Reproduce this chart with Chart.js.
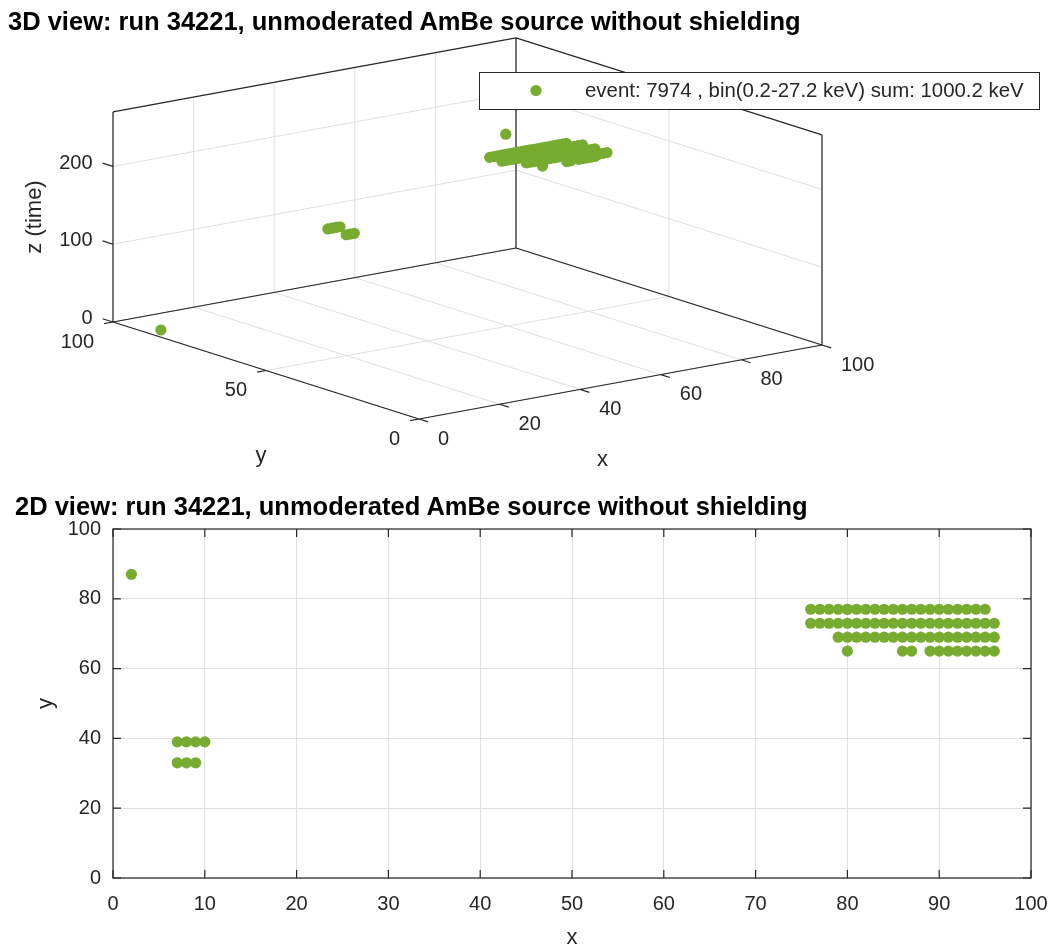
<!DOCTYPE html>
<html lang="en">
<head>
<meta charset="UTF-8">
<title>run 34221 - event 7974</title>
<script src="https://cdn.jsdelivr.net/npm/chart.js@4.4.0/dist/chart.umd.min.js"></script>
<style>
  body { margin: 0; background: #fff; }
  .panel { position: absolute; left: 0; width: 1053px; }
  .panel canvas { display: block; }
  .title {
    position: absolute;
    font-family: "Liberation Sans", Arial, Helvetica, sans-serif;
    font-weight: bold;
    font-size: 25.5px;
    line-height: 25px;
    color: #000;
    white-space: nowrap;
  }
</style>
</head>
<body>
<div class="panel" style="top:0;height:475px"><canvas id="view3d" width="1053" height="475"></canvas></div>
<div class="title" style="left:8px;top:9px">3D view: run 34221, unmoderated AmBe source without shielding</div>

<div class="panel" style="top:475px;height:474px"><canvas id="view2d" width="1053" height="474"></canvas></div>
<div class="title" style="left:15px;top:494px">2D view: run 34221, unmoderated AmBe source without shielding</div>

<script>
// hits of event 7974 (pixel x, pixel y, time z)
const hitX = [
  2,
  7, 8, 9, 10,
  7, 8, 9,
  76, 77, 78, 79, 80, 81, 82, 83, 84, 85, 86, 87, 88, 89, 90, 91, 92, 93, 94, 95,
  76, 77, 78, 79, 80, 81, 82, 83, 84, 85, 86, 87, 88, 89, 90, 91, 92, 93, 94, 95, 96,
  79, 80, 81, 82, 83, 84, 85, 86, 87, 88, 89, 90, 91, 92, 93, 94, 95, 96,
  80, 86, 87, 89, 90, 91, 92, 93, 94, 95, 96,
  80
];
const hitY = [
  87,
  39, 39, 39, 39,
  33, 33, 33,
  77, 77, 77, 77, 77, 77, 77, 77, 77, 77, 77, 77, 77, 77, 77, 77, 77, 77, 77, 77,
  73, 73, 73, 73, 73, 73, 73, 73, 73, 73, 73, 73, 73, 73, 73, 73, 73, 73, 73, 73, 73,
  69, 69, 69, 69, 69, 69, 69, 69, 69, 69, 69, 69, 69, 69, 69, 69, 69, 69,
  65, 65, 65, 65, 65, 65, 65, 65, 65, 65, 65,
  77
];
const hitZ = [
  4,
  189, 189, 189, 189,
  189, 189, 189,
  168, 168, 168, 168, 168, 168, 168, 168, 168, 168, 168, 168, 168, 168, 168, 168, 168, 168, 168, 168,
  168, 168, 168, 168, 168, 168, 168, 168, 168, 168, 168, 168, 168, 168, 168, 168, 168, 168, 170, 170, 170,
  168, 168, 168, 168, 168, 168, 168, 168, 168, 168, 168, 168, 168, 168, 168, 170, 170, 170,
  168, 168, 168, 168, 168, 168, 168, 168, 170, 170, 170,
  194
];
const legendLabel = 'event: 7974 , bin(0.2-27.2 keV) sum: 1000.2 keV';

// axis ticks
const xTicks3d = [0, 20, 40, 60, 80, 100];
const yTicks3d = [0, 50, 100];
const zTicks3d = [0, 100, 200];
const zMax = 270;
const xTicks2d = [0, 10, 20, 30, 40, 50, 60, 70, 80, 90, 100];
const yTicks2d = [0, 20, 40, 60, 80, 100];

const GREEN = '#77AC30';
const INK = '#262626';
const GRID = '#dfdfdf';
const FAMILY = '"Liberation Sans", Arial, Helvetica, sans-serif';

Chart.defaults.font.family = FAMILY;
Chart.defaults.color = INK;

// orthographic view, screen units are px measured from the (0,0,0) corner
const VIEW = { ox: 419, oy: 419, xu: 4.03, xv: 0.74, yu: -3.06, yv: 0.97, zv: 0.778 };
function proj(x, y, z) {
  return { x: x * VIEW.xu + y * VIEW.yu, y: x * VIEW.xv + y * VIEW.yv + z * VIEW.zv };
}

function segments(list) {
  const out = [];
  list.forEach(([a, b]) => {
    out.push(proj(a[0], a[1], a[2]), proj(b[0], b[1], b[2]), { x: null, y: null });
  });
  return out;
}

const xMax = xTicks3d[xTicks3d.length - 1];
const yMax = yTicks3d[yTicks3d.length - 1];

const gridList = [];
xTicks3d.forEach(t => {
  gridList.push([[t, 0, 0], [t, yMax, 0]]);
  gridList.push([[t, yMax, 0], [t, yMax, zMax]]);
});
yTicks3d.forEach(t => {
  gridList.push([[0, t, 0], [xMax, t, 0]]);
  gridList.push([[xMax, t, 0], [xMax, t, zMax]]);
});
zTicks3d.forEach(t => {
  gridList.push([[0, yMax, t], [xMax, yMax, t]]);
  gridList.push([[xMax, 0, t], [xMax, yMax, t]]);
});

const boxList = [
  [[0, 0, 0], [xMax, 0, 0]],
  [[0, 0, 0], [0, yMax, 0]],
  [[0, yMax, 0], [xMax, yMax, 0]],
  [[xMax, 0, 0], [xMax, yMax, 0]],
  [[0, yMax, 0], [0, yMax, zMax]],
  [[xMax, yMax, 0], [xMax, yMax, zMax]],
  [[xMax, 0, 0], [xMax, 0, zMax]],
  [[0, yMax, zMax], [xMax, yMax, zMax]],
  [[xMax, yMax, zMax], [xMax, 0, zMax]]
];
// tick marks, length in data units
xTicks3d.forEach(t => boxList.push([[t, 0, 0], [t, -3, 0]]));
yTicks3d.forEach(t => boxList.push([[0, t, 0], [-2.2, t, 0]]));
zTicks3d.forEach(t => boxList.push([[0, yMax, t], [0, yMax + 3.4, t]]));

const labels3d = {
  id: 'labels3d',
  afterDatasetsDraw(chart) {
    const { ctx, scales: { x: sx, y: sy } } = chart;
    const px = (x, y, z) => {
      const p = proj(x, y, z);
      return [sx.getPixelForValue(p.x), sy.getPixelForValue(p.y)];
    };
    ctx.save();
    ctx.fillStyle = INK;
    ctx.font = '20px ' + FAMILY;
    ctx.textBaseline = 'middle';

    ctx.textAlign = 'right';
    zTicks3d.forEach(t => {
      const [u, v] = px(0, yMax + 3.4, t);
      ctx.fillText(String(t), u - 10, v);
    });
    yTicks3d.forEach(t => {
      const [u, v] = px(0, t, 0);
      ctx.fillText(String(t), u - 19, v + 20);
    });
    ctx.textAlign = 'left';
    xTicks3d.forEach(t => {
      const [u, v] = px(t, 0, 0);
      ctx.fillText(String(t), u + 19, v + 20);
    });

    // axis labels
    ctx.font = '22px ' + FAMILY;
    ctx.textAlign = 'center';
    let [u, v] = px(xMax / 2, 0, 0);
    ctx.fillText('x', u - 18, v + 78);
    [u, v] = px(0, yMax / 2, 0);
    ctx.fillText('y', u - 5, v + 85);
    [u, v] = px(0, yMax, zMax / 2);
    ctx.translate(u - 78, v);
    ctx.rotate(-Math.PI / 2);
    ctx.fillText('z (time)', 0, 0);
    ctx.restore();
  },
  afterDraw(chart) {
    const { ctx } = chart;
    const ds = chart.data.datasets[0];
    ctx.save();
    ctx.fillStyle = '#fff';
    ctx.strokeStyle = INK;
    ctx.lineWidth = 1;
    ctx.fillRect(479.5, 72.5, 560, 37);
    ctx.strokeRect(479.5, 72.5, 560, 37);
    ctx.fillStyle = ds.backgroundColor;
    ctx.beginPath();
    ctx.arc(536, 90.5, ds.pointRadius, 0, Math.PI * 2);
    ctx.fill();
    ctx.fillStyle = INK;
    ctx.font = '20.4px ' + FAMILY;
    ctx.textAlign = 'left';
    ctx.textBaseline = 'middle';
    ctx.fillText(ds.label, 585, 91);
    ctx.restore();
  }
};

const canvas3d = document.getElementById('view3d');
new Chart(canvas3d, {
  type: 'scatter',
  data: {
    datasets: [
      {
        label: legendLabel,
        data: hitX.map((x, i) => proj(x, hitY[i], hitZ[i])),
        backgroundColor: GREEN,
        borderWidth: 0,
        pointRadius: 5.6,
        pointHoverRadius: 5.6,
        order: 0
      },
      {
        label: 'box',
        data: segments(boxList),
        showLine: true,
        borderColor: INK,
        borderWidth: 1.2,
        pointRadius: 0,
        order: 1
      },
      {
        label: 'grid',
        data: segments(gridList),
        showLine: true,
        borderColor: GRID,
        borderWidth: 1,
        pointRadius: 0,
        order: 2
      }
    ]
  },
  options: {
    responsive: false,
    animation: false,
    events: [],
    layout: { padding: 0, autoPadding: false },
    plugins: { legend: { display: false }, tooltip: { enabled: false } },
    scales: {
      x: { type: 'linear', display: false, min: -VIEW.ox, max: canvas3d.width - VIEW.ox },
      y: { type: 'linear', display: false, min: VIEW.oy - canvas3d.height, max: VIEW.oy }
    }
  },
  plugins: [labels3d]
});

// 2D view: box with inward ticks on all four sides
const TICK = 8;
const boxTicks = {
  id: 'boxTicks',
  afterDatasetsDraw(chart) {
    const { ctx, chartArea: a, scales: { x, y } } = chart;
    ctx.save();
    ctx.strokeStyle = INK;
    ctx.lineWidth = 1.2;
    ctx.beginPath();
    xTicks2d.forEach(t => {
      const p = x.getPixelForValue(t);
      ctx.moveTo(p, a.bottom); ctx.lineTo(p, a.bottom - TICK);
      ctx.moveTo(p, a.top); ctx.lineTo(p, a.top + TICK);
    });
    yTicks2d.forEach(t => {
      const p = y.getPixelForValue(t);
      ctx.moveTo(a.left, p); ctx.lineTo(a.left + TICK, p);
      ctx.moveTo(a.right, p); ctx.lineTo(a.right - TICK, p);
    });
    ctx.stroke();
    ctx.strokeRect(a.left, a.top, a.right - a.left, a.bottom - a.top);
    ctx.restore();
  }
};

new Chart(document.getElementById('view2d'), {
  type: 'scatter',
  data: {
    datasets: [{
      label: legendLabel,
      data: hitX.map((x, i) => ({ x, y: hitY[i] })),
      backgroundColor: GREEN,
      borderWidth: 0,
      pointRadius: 5.6,
      pointHoverRadius: 5.6
    }]
  },
  options: {
    responsive: false,
    animation: false,
    events: [],
    layout: { padding: { top: 54, right: 22, left: 0, bottom: 0 }, autoPadding: false },
    plugins: { legend: { display: false }, tooltip: { enabled: false } },
    scales: {
      x: {
        type: 'linear', min: 0, max: 100,
        afterBuildTicks: s => { s.ticks = xTicks2d.map(v => ({ value: v })); },
        afterFit: s => { s.height = 71; },
        // invisible outer ticks keep the labels away from the axis
        grid: { color: GRID, drawTicks: true, tickLength: 14, tickColor: 'rgba(0,0,0,0)' },
        border: { display: false },
        ticks: { color: INK, font: { size: 20 }, padding: 0, maxRotation: 0, autoSkip: false },
        title: { display: true, text: 'x', color: INK, font: { size: 22 }, padding: { top: 0, bottom: -2 } }
      },
      y: {
        type: 'linear', min: 0, max: 100,
        afterBuildTicks: s => { s.ticks = yTicks2d.map(v => ({ value: v })); },
        afterFit: s => { s.width = 113; },
        grid: { color: GRID, drawTicks: false },
        border: { display: false },
        ticks: { color: INK, font: { size: 20 }, padding: 12, autoSkip: false },
        title: { display: true, text: 'y', color: INK, font: { size: 22 }, padding: { top: 33, bottom: 0 } }
      }
    }
  },
  plugins: [boxTicks]
});
</script>
</body>
</html>
